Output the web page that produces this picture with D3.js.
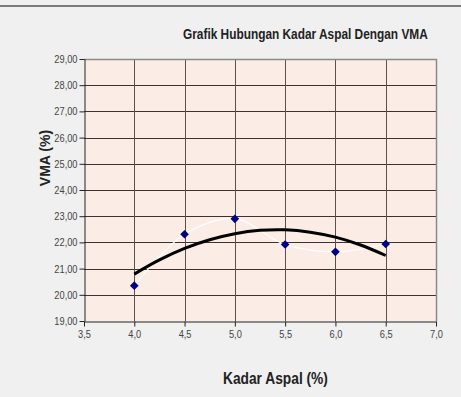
<!DOCTYPE html>
<html><head><meta charset="utf-8">
<script src="https://cdn.jsdelivr.net/npm/d3@7"></script>
<style>
html,body{margin:0;padding:0;background:#f0f0f0;}
svg{display:block;}
</style></head>
<body>
<script>
const kadarAspal = [4.0, 4.5, 5.0, 5.5, 6.0, 6.5];
const vma = [20.35, 22.31, 22.90, 21.92, 21.64, 21.94];
const trendX = [4.0, 4.25, 4.5, 4.75, 5.0, 5.25, 5.5, 5.75, 6.0, 6.25, 6.5];
const trendY = [20.79, 21.33, 21.77, 22.10, 22.33, 22.46, 22.48, 22.39, 22.20, 21.90, 21.50];
const xTicks = [3.5, 4.0, 4.5, 5.0, 5.5, 6.0, 6.5, 7.0];
const yTicks = [19, 20, 21, 22, 23, 24, 25, 26, 27, 28, 29];
const titleText = "Grafik Hubungan Kadar Aspal Dengan VMA";
const xTitle = "Kadar Aspal (%)";
const yTitle = "VMA (%)";

const W = 461, H = 397;
const svg = d3.select("body").append("svg").attr("width", W).attr("height", H);
svg.append("rect").attr("width", W).attr("height", H).attr("fill", "#f0f0f0");
svg.append("line").attr("x1", 0).attr("x2", W).attr("y1", 6).attr("y2", 6)
  .attr("stroke", "#555").attr("stroke-width", 1.5);

const L = 84, R = 436, T = 59, B = 321;
const x = d3.scaleLinear().domain([3.5, 7.0]).range([L, R]);
const y = d3.scaleLinear().domain([19, 29]).range([B, T]);
const fmt = d => d.toFixed(2).replace(".", ",");
const fmtX = d => d.toFixed(1).replace(".", ",");
const sans = "'Liberation Sans',Arial,sans-serif";
function condense(sel, factor) {
  sel.each(function () {
    const len = this.getComputedTextLength();
    d3.select(this).attr("textLength", len * factor).attr("lengthAdjust", "spacingAndGlyphs");
  });
}
// place text starting at left x, scaled horizontally to a target width
function fitText(txt, left, base, size, width) {
  const t = svg.append("text").attr("x", 0).attr("y", 0)
    .style("font-family", sans).style("font-weight", "bold").style("font-size", size + "px")
    .attr("fill", "#222").text(txt);
  const s = width / t.node().getComputedTextLength();
  t.attr("transform", `translate(${left},${base}) scale(${s},1)`);
  return t;
}

svg.append("rect").attr("x", L).attr("y", T).attr("width", R - L).attr("height", B - T)
  .attr("fill", "#fbede5");

// gridlines
svg.append("g").selectAll("line").data(yTicks.slice(1)).join("line")
  .attr("x1", L).attr("x2", R).attr("y1", d => Math.round(y(d)) + 0.5).attr("y2", d => Math.round(y(d)) + 0.5)
  .attr("stroke", "#3b3330").attr("stroke-width", 1);
svg.append("g").selectAll("line").data(xTicks.slice(1, -1)).join("line")
  .attr("y1", T).attr("y2", B).attr("x1", d => Math.round(x(d)) + 0.5).attr("x2", d => Math.round(x(d)) + 0.5)
  .attr("stroke", "#5a504c").attr("stroke-width", 1);
// plot border top/right
svg.append("path").attr("d", `M${L},${T + 0.5}H${R + 0.5}V${B}`).attr("fill", "none")
  .attr("stroke", "#8a8a8a").attr("stroke-width", 1.5);

// axes
const yAxis = svg.append("g").attr("transform", `translate(${L + 0.5},0)`)
  .call(d3.axisLeft(y).tickValues(yTicks).tickFormat(fmt).tickSize(5).tickSizeOuter(0));
const xAxis = svg.append("g").attr("transform", `translate(0,${B + 0.5})`)
  .call(d3.axisBottom(x).tickValues(xTicks).tickFormat(fmtX).tickSize(5).tickSizeOuter(0));
[yAxis, xAxis].forEach(g => {
  g.select(".domain").attr("stroke", "#222");
  g.selectAll(".tick line").attr("stroke", "#222");
  g.selectAll("text").attr("fill", "#444").style("font-family", sans).style("font-size", "11px");
});
yAxis.selectAll("text").attr("x", -7);
xAxis.selectAll("text").attr("y", 9);
condense(yAxis.selectAll("text"), 0.84);
condense(xAxis.selectAll("text"), 0.84);

// smoothed data line (white)
svg.append("path").datum(kadarAspal.map((d, i) => [d, vma[i]]))
  .attr("d", d3.line().x(d => x(d[0])).y(d => y(d[1])).curve(d3.curveCatmullRom.alpha(0.5)))
  .attr("fill", "none").attr("stroke", "#ffffff").attr("stroke-width", 1.2);

// trendline
svg.append("path").datum(trendX.map((d, i) => [d, trendY[i]]))
  .attr("d", d3.line().x(d => x(d[0])).y(d => y(d[1])).curve(d3.curveCatmullRom))
  .attr("fill", "none").attr("stroke", "#000").attr("stroke-width", 3);

// points
svg.append("g").selectAll("path").data(kadarAspal.map((d, i) => [d, vma[i]])).join("path")
  .attr("d", d3.symbol(d3.symbolDiamond2, 48))
  .attr("transform", d => `translate(${x(d[0])},${y(d[1])})`)
  .attr("fill", "#000080");

// titles
fitText(titleText, 183, 39, 14, 245);
fitText(xTitle, 223, 384, 17, 105);
svg.append("text").attr("transform", "translate(50,158) rotate(-90)").attr("text-anchor", "middle")
  .style("font-family", sans).style("font-weight", "bold").style("font-size", "14px")
  .attr("fill", "#222").text(yTitle);
</script>
</body></html>
